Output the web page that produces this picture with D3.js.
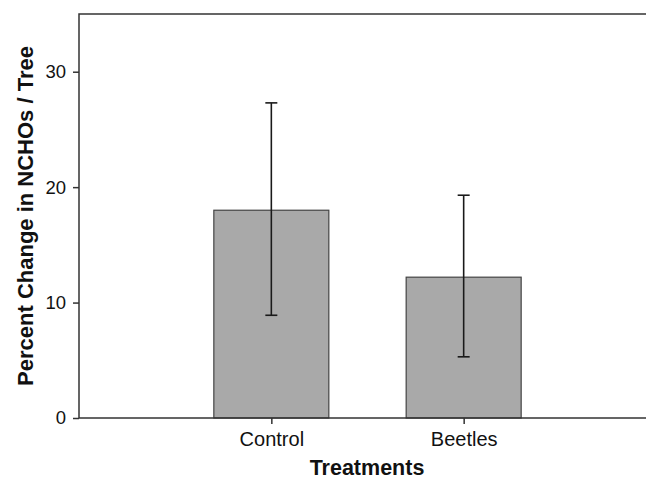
<!DOCTYPE html>
<html><head><meta charset="utf-8">
<script src="https://cdn.jsdelivr.net/npm/d3@7"></script>
<style>body{margin:0;background:#fff}svg{display:block}text{font-family:Arial,"Liberation Sans",sans-serif;fill:#111}</style>
</head><body><svg id="c" width="646" height="481"></svg>
<script>
const categories = ["Control", "Beetles"];
const means = [18.0, 12.2];
const errHigh = [27.3, 19.3];
const errLow = [8.9, 5.3];
const yTicks = [0, 10, 20, 30];

const svg = d3.select("#c");
const m = {left: 79, top: 14, right: 656, bottom: 418};
const xc = d3.scalePoint().domain(["_l", ...categories, "_r"]).range([m.left, m.right]);
const bw = 115;
const y = d3.scaleLinear().domain([0, 35]).range([m.bottom, m.top]);

const data = categories.map((c, i) => ({c, v: means[i], hi: errHigh[i], lo: errLow[i]}));

svg.selectAll("rect.bar").data(data).enter().append("rect")
  .attr("x", d => xc(d.c) - bw / 2).attr("width", bw)
  .attr("y", d => y(d.v)).attr("height", d => y(0) - y(d.v))
  .attr("fill", "#a9a9a9").attr("stroke", "#444").attr("stroke-width", 1.2);

const eg = svg.selectAll("g.err").data(data).enter().append("g").attr("stroke", "#1a1a1a").attr("stroke-width", 1.6);
eg.append("line").attr("x1", d => xc(d.c)).attr("x2", d => xc(d.c)).attr("y1", d => y(d.hi)).attr("y2", d => y(d.lo));
eg.append("line").attr("x1", d => xc(d.c) - 6).attr("x2", d => xc(d.c) + 6).attr("y1", d => y(d.hi)).attr("y2", d => y(d.hi));
eg.append("line").attr("x1", d => xc(d.c) - 6).attr("x2", d => xc(d.c) + 6).attr("y1", d => y(d.lo)).attr("y2", d => y(d.lo));

svg.append("rect").attr("x", m.left).attr("y", m.top).attr("width", m.right - m.left).attr("height", m.bottom - m.top)
  .attr("fill", "none").attr("stroke", "#333").attr("stroke-width", 1.5);

const yAxis = d3.axisLeft(y).tickValues(yTicks).tickSize(6).tickPadding(7);
const gy = svg.append("g").attr("transform", `translate(${m.left},0)`).call(yAxis);
gy.select(".domain").remove();
gy.attr("font-size", 18.5).attr("font-family", "Arial, 'Liberation Sans', sans-serif");
gy.selectAll("line").attr("stroke", "#333").attr("stroke-width", 1.5);
gy.selectAll("text").attr("fill", "#111");

const xAxis = d3.axisBottom(xc).tickValues(categories).tickSize(6).tickPadding(8);
const gx = svg.append("g").attr("transform", `translate(0,${m.bottom})`).call(xAxis);
gx.select(".domain").remove();
gx.attr("font-size", 20).attr("font-family", "Arial, 'Liberation Sans', sans-serif");
gx.selectAll("line").attr("stroke", "#333").attr("stroke-width", 1.5);
gx.selectAll("text").attr("fill", "#111");

svg.append("text").attr("x", 367).attr("y", 475).attr("text-anchor", "middle")
  .attr("font-size", 21.5).attr("font-weight", "bold").text("Treatments");
svg.append("text").attr("transform", "translate(33,216) rotate(-90)").attr("text-anchor", "middle")
  .attr("font-size", 22).attr("font-weight", "bold").text("Percent Change in NCHOs / Tree");
</script></body></html>
